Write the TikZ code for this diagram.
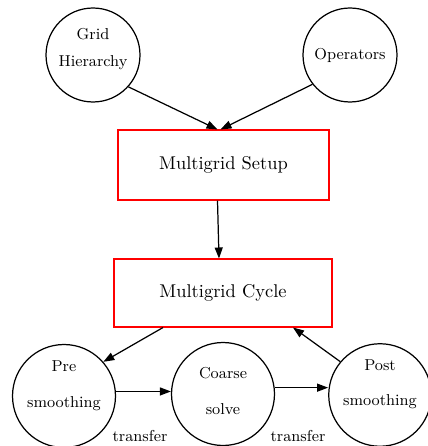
\documentclass[tikz,border=0pt]{standalone}
\usetikzlibrary{arrows.meta}
\begin{document}
\begin{tikzpicture}[
  x=0.02cm, y=-0.02cm,
  stage/.style={circle, draw, line width=0.7pt, minimum size=2.06cm, inner sep=0pt, align=center, font=\small},
  lift/.style={text depth=#1},
  block/.style={rectangle, draw=red, line width=0.6pt, font=\fontsize{10.5}{12.5}\selectfont},
  flow/.style={draw, line width=0.7pt, -{Triangle[length=0.22cm, width=0.16cm]}},
  lbl/.style={font=\small}
  ]
  \useasboundingbox (0,0) rectangle (427,446);
  % setup stage
  \node[stage, lift=8.5pt, minimum size=1.88cm] (grid) at (93,55) {Grid\\[4pt]Hierarchy};
  \node[stage, minimum size=1.88cm] (ops) at (350,55) {Operators};
  \node[block, minimum width=4.22cm, minimum height=1.4cm] (setup) at (223.5,165) {Multigrid Setup};
  % cycle stage
  \node[block, minimum width=4.36cm, minimum height=1.36cm] (cycle) at (223,293) {Multigrid Cycle};
  \node[stage, lift=13.5pt] (pre) at (64,396) {Pre\\[9pt]smoothing};
  \node[stage, lift=3.5pt] (coarse) at (223,394) {Coarse\\[9pt]solve};
  \node[stage, lift=14.5pt, minimum size=2.02cm] (post) at (380,395) {Post\\[9pt]smoothing};
  \node[lbl] (tr1) at (140,436) {transfer};
  \node[lbl] (tr2) at (298,436) {transfer};

  \draw[flow] (grid.-42) -- ([xshift=-0.12cm]setup.north);
  \draw[flow] (ops.218) -- ([xshift=-0.06cm]setup.north);
  \draw[flow] ([xshift=-0.12cm]setup.south) -- ([xshift=-0.08cm]cycle.north);
  \draw[flow] ([xshift=-1.2cm]cycle.south) -- (pre.41);
  \draw[flow] (post.140) -- ([xshift=1.4cm]cycle.south);
  \draw[flow] (pre.5) -- (pre.5 -| coarse.west);
  \draw[flow] (coarse.7) -- (coarse.7 -| post.west);
\end{tikzpicture}
\end{document}
